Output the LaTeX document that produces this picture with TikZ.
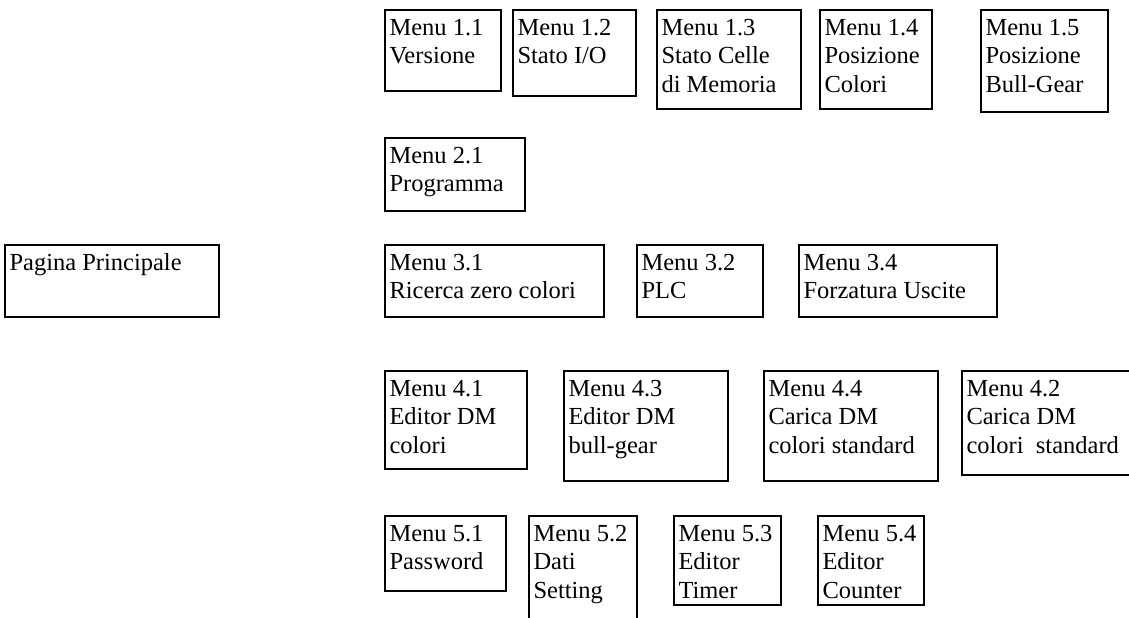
\documentclass[tikz,border=0pt]{standalone}
\usepackage{fontspec}
\setmainfont{Liberation Serif}
\begin{document}
\begin{tikzpicture}[x=1pt,y=-1pt,
  box/.style={draw=black, line width=1.3pt, rectangle, inner sep=0pt, outer sep=0pt},
  lbl/.style={anchor=north west, inner sep=0pt, align=left,
              font=\fontsize{24.5}{28.5}\selectfont}]
\useasboundingbox (0,0) rectangle (1129,618);
\clip (0,0) rectangle (1129,618);
% \menubox{name}{left}{top}{right}{bottom}{label}
\newcommand\menubox[6]{%
  \pgfmathsetmacro\bw{#4-#2}\pgfmathsetmacro\bh{#5-#3}%
  \node[box, minimum width=\bw pt, minimum height=\bh pt] (#1) at ({(#2+#4)/2},{(#3+#5)/2}) {};
  \node[lbl] (#1t) at ([shift={(4.3pt,-5.2pt)}]#1.north west) {#6};}

% row 1
\menubox{m11}{385}{10}{501}{91}{\strut Menu 1.1\\\strut Versione}
\menubox{m12}{513}{10}{636}{96}{\strut Menu 1.2\\\strut Stato I/O}
\menubox{m13}{657}{10}{801}{109}{\strut Menu 1.3\\\strut Stato Celle\\\strut di Memoria}
\menubox{m14}{820}{10}{932}{109}{\strut Menu 1.4\\\strut Posizione\\\strut Colori}
\menubox{m15}{981}{10}{1108}{112}{\strut Menu 1.5\\\strut Posizione\\\strut Bull-Gear}
% row 2
\menubox{m21}{385}{138}{525}{211}{\strut Menu 2.1\\\strut Programma}
% row 3
\menubox{main}{5}{245}{219}{317}{\strut Pagina Principale}
\menubox{m31}{385}{245}{604}{317}{\strut Menu 3.1\\\strut Ricerca zero colori}
\menubox{m32}{637}{245}{763}{317}{\strut Menu 3.2\\\strut PLC}
\menubox{m34}{799}{245}{997}{317}{\strut Menu 3.4\\\strut Forzatura Uscite}
% row 4
\menubox{m41}{385}{371}{527}{469}{\strut Menu 4.1\\\strut Editor DM\\\strut colori}
\menubox{m43}{564}{371}{728}{481}{\strut Menu 4.3\\\strut Editor DM\\\strut bull-gear}
\menubox{m44}{764}{371}{938}{481}{\strut Menu 4.4\\\strut Carica DM\\\strut colori standard}
\menubox{m42}{962}{371}{1140}{475}{\strut Menu 4.2\\\strut Carica DM\\\strut colori~~standard}
% row 5
\menubox{m51}{385}{516}{506}{591}{\strut Menu 5.1\\\strut Password}
\menubox{m52}{529}{516}{637}{640}{\strut Menu 5.2\\\strut Dati\\\strut Setting}
\menubox{m53}{674}{516}{781}{605}{\strut Menu 5.3\\\strut Editor\\\strut Timer}
\menubox{m54}{818}{516}{924}{605}{\strut Menu 5.4\\\strut Editor\\\strut Counter}
\end{tikzpicture}
\end{document}
